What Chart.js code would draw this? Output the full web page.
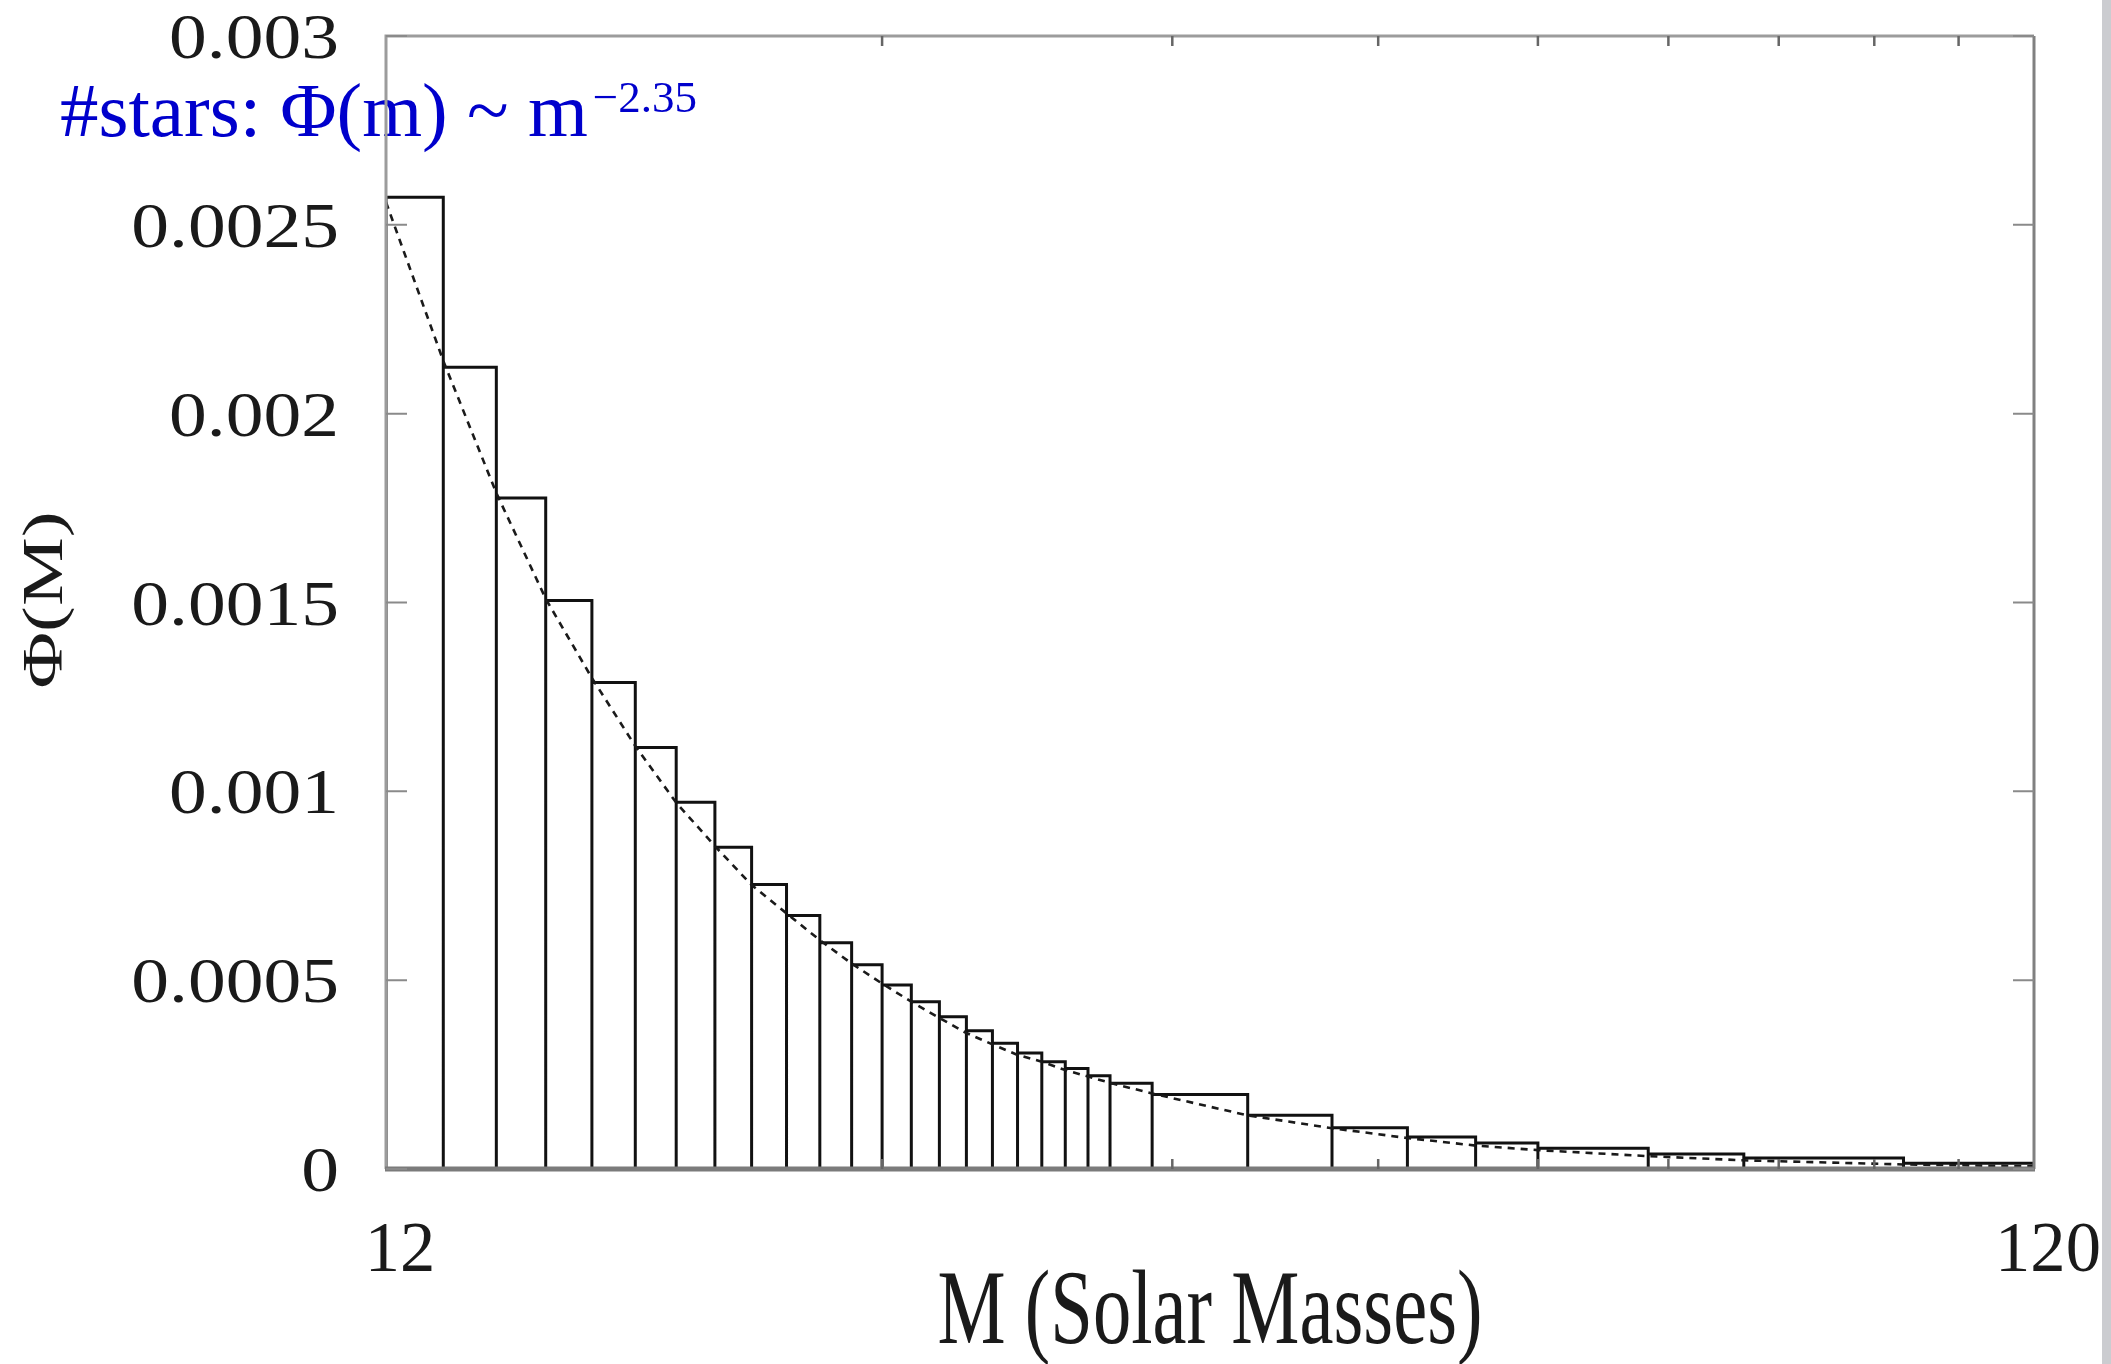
<!DOCTYPE html>
<html>
<head>
<meta charset="utf-8">
<title>Stellar mass function</title>
<script src="https://cdn.jsdelivr.net/npm/chart.js@4.4.1/dist/chart.umd.min.js"></script>
<style>
  html, body { margin: 0; padding: 0; background: #fff; }
  #wrap { position: relative; width: 2111px; height: 1364px; overflow: hidden; }
  #strip { position: absolute; top: 0; right: 0; width: 9px; height: 1364px; background: #cbccd0; }
</style>
</head>
<body>
<div id="wrap">
  <canvas id="imfChart" width="2111" height="1364"></canvas>
  <div id="strip"></div>
</div>
<script>
// Histogram bin edges (solar masses) and the height of each bin
const binEdges = [12, 13, 14, 15, 16, 17, 18, 19, 20, 21, 22, 23, 24, 25, 26, 27, 28, 29, 30, 31, 32, 33,
                  35, 40, 45, 50, 55, 60, 70, 80, 100, 120];
const binHeights = [0.002573, 0.002123, 0.001777, 0.001505, 0.001288, 0.001116, 0.000971, 0.000852,
                    0.000753, 0.000671, 0.000599, 0.000541, 0.000487, 0.000443, 0.000403, 0.000366,
                    0.000333, 0.000307, 0.000284, 0.000266, 0.000247, 0.000227, 0.000197, 0.000142,
                    0.000109, 0.000085, 0.000069, 0.000055, 0.000040, 0.000029, 0.000015];

// Dashed power-law curve
const curveMass = [12, 13, 14, 15, 16, 17, 18, 19, 20, 21, 22, 23, 24, 25, 26, 27, 28, 29, 30, 31, 32, 33,
                   35, 40, 45, 50, 55, 60, 70, 80, 100, 120];
const curveValue = [0.00256, 0.00214, 0.00179, 0.00151, 0.00130, 0.00112, 0.00097, 0.000855,
                    0.000752, 0.000677, 0.000606, 0.000544, 0.000491, 0.000443, 0.000400, 0.000360,
                    0.000330, 0.000302, 0.000284, 0.000262, 0.000245, 0.000228, 0.000200, 0.000142,
                    0.000108, 0.000082, 0.000062, 0.000050, 0.000034, 0.000023, 0.000012, 0.000007];

// Axis ticks
const yTickValues = [0, 0.0005, 0.001, 0.0015, 0.002, 0.0025, 0.003];
const yTickLabels = ['0', '0.0005', '0.001', '0.0015', '0.002', '0.0025', '0.003'];
const xTickValues = [12, 120];
const xTickLabels = ['12', '120'];
const xMinorTicks = [24, 36, 48, 60, 72, 84, 96, 108];

const xTitle = 'M (Solar Masses)';
const yTitle = '\u03A6(M)';
const noteMain = '#stars: \u03A6(m) ~ m';
const noteSup = '\u22122.35';

// outline of every bin: up the left side, across the top, down the right side
const outline = [];
for (let i = 0; i < binHeights.length; i++) {
  outline.push({ x: binEdges[i], y: 0 });
  outline.push({ x: binEdges[i], y: binHeights[i] });
  outline.push({ x: binEdges[i + 1], y: binHeights[i] });
  outline.push({ x: binEdges[i + 1], y: 0 });
}
const curvePoints = curveMass.map((m, i) => ({ x: m, y: curveValue[i] }));

const SERIF = '"Liberation Serif", "Times New Roman", serif';

// draw text squeezed or stretched horizontally
function drawScaled(ctx, text, x, y, sx, align) {
  ctx.save();
  ctx.translate(x, y);
  ctx.scale(sx, 1);
  ctx.textAlign = align;
  ctx.fillText(text, 0, 0);
  ctx.restore();
}

const paperPlugin = {
  id: 'paper',
  beforeDatasetsDraw(chart) {
    const ctx = chart.ctx;
    // blue note in the top left corner (frame is drawn over it later)
    ctx.save();
    ctx.fillStyle = '#0000cc';
    ctx.textBaseline = 'alphabetic';
    ctx.textAlign = 'left';
    ctx.font = '77px ' + SERIF;
    ctx.fillText(noteMain, 60, 136);
    const w = ctx.measureText(noteMain).width;
    ctx.font = '45px ' + SERIF;
    ctx.fillText(noteSup, 60 + w + 5, 112);
    ctx.restore();
  },
  afterDatasetsDraw(chart) {
    const ctx = chart.ctx;
    const area = chart.chartArea;
    const xs = chart.scales.x;
    const ys = chart.scales.y;

    ctx.save();
    // frame
    ctx.lineCap = 'butt';
    ctx.strokeStyle = '#9c9c9c';
    ctx.lineWidth = 3;
    ctx.beginPath();
    ctx.moveTo(area.left, area.bottom);
    ctx.lineTo(area.left, area.top);
    ctx.lineTo(area.right, area.top);
    ctx.stroke();
    ctx.strokeStyle = '#808080';
    ctx.beginPath();
    ctx.moveTo(area.right, area.top);
    ctx.lineTo(area.right, area.bottom);
    ctx.stroke();
    ctx.lineWidth = 5;
    ctx.strokeStyle = '#7b7b7b';
    ctx.beginPath();
    ctx.moveTo(area.left - 1, area.bottom);
    ctx.lineTo(area.right + 1, area.bottom);
    ctx.stroke();

    // inward y ticks on both sides
    ctx.strokeStyle = '#8a8a8a';
    ctx.lineWidth = 2;
    yTickValues.forEach(v => {
      const y = ys.getPixelForValue(v);
      ctx.beginPath();
      ctx.moveTo(area.left, y);
      ctx.lineTo(area.left + 21, y);
      ctx.moveTo(area.right, y);
      ctx.lineTo(area.right - 21, y);
      ctx.stroke();
    });

    // short inward x ticks at top and bottom
    ctx.strokeStyle = '#666';
    ctx.lineWidth = 2.5;
    xMinorTicks.forEach(m => {
      const x = xs.getPixelForValue(m);
      ctx.beginPath();
      ctx.moveTo(x, area.top);
      ctx.lineTo(x, area.top + 10);
      ctx.moveTo(x, area.bottom);
      ctx.lineTo(x, area.bottom - 10);
      ctx.stroke();
    });

    // y tick labels
    ctx.fillStyle = '#1a1a1a';
    ctx.textBaseline = 'alphabetic';
    ctx.font = '64px ' + SERIF;
    yTickValues.forEach((v, i) => {
      const y = ys.getPixelForValue(v);
      drawScaled(ctx, yTickLabels[i], area.left - 47, y + 22, 1.18, 'right');
    });

    // x tick labels
    ctx.font = '72px ' + SERIF;
    xTickValues.forEach((v, i) => {
      const x = xs.getPixelForValue(v);
      drawScaled(ctx, xTickLabels[i], x + 14, 1271, 0.98, 'center');
    });

    // x axis title, squeezed
    ctx.font = '106px ' + SERIF;
    const tw = ctx.measureText(xTitle).width;
    drawScaled(ctx, xTitle, (area.left + area.right) / 2, 1343, 545 / tw, 'center');

    // y axis title, rotated
    ctx.font = '57px ' + SERIF;
    const yw = ctx.measureText(yTitle).width;
    ctx.save();
    ctx.translate(62, 600);
    ctx.rotate(-Math.PI / 2);
    ctx.scale(177 / yw, 1);
    ctx.textAlign = 'center';
    ctx.fillText(yTitle, 0, 0);
    ctx.restore();

    ctx.restore();
  }
};

const ctx = document.getElementById('imfChart').getContext('2d');
const chart = new Chart(ctx, {
  type: 'scatter',
  data: {
    datasets: [
      {
        label: 'power law',
        data: curvePoints,
        showLine: true,
        borderColor: '#1a1a1a',
        borderWidth: 2.6,
        borderDash: [7, 6],
        pointRadius: 0,
        tension: 0
      },
      {
        label: 'histogram',
        data: outline,
        showLine: true,
        borderColor: '#111',
        borderWidth: 3,
        borderJoinStyle: 'miter',
        pointRadius: 0,
        tension: 0
      }
    ]
  },
  options: {
    responsive: false,
    animation: false,
    devicePixelRatio: 1,
    layout: { padding: { left: 386, right: 77, top: 36, bottom: 195 } },
    plugins: {
      legend: { display: false },
      tooltip: { enabled: false }
    },
    scales: {
      x: { type: 'logarithmic', min: 12, max: 120, display: false },
      y: { type: 'linear', min: 0, max: 0.003, display: false }
    }
  },
  plugins: [paperPlugin]
});
</script>
</body>
</html>
